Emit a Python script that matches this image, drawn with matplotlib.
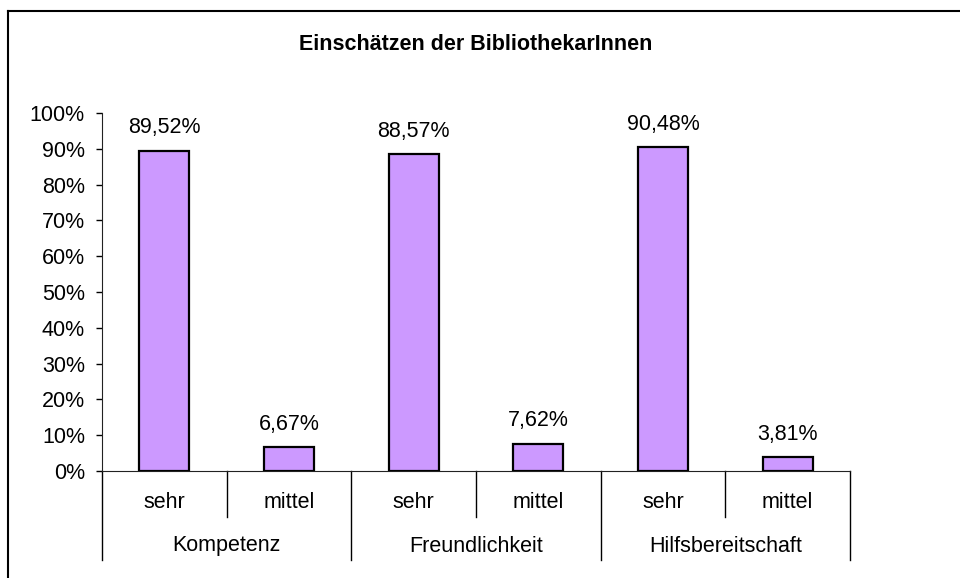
import matplotlib
matplotlib.use("Agg")
import matplotlib.pyplot as plt
from matplotlib.ticker import MultipleLocator, FuncFormatter

plt.rcParams['font.family'] = ['Liberation Sans', 'DejaVu Sans']

# Daten
groups = ["Kompetenz", "Freundlichkeit", "Hilfsbereitschaft"]
levels = ["sehr", "mittel"]
values = [89.52, 6.67, 88.57, 7.62, 90.48, 3.81]
value_labels = ["89,52%", "6,67%", "88,57%", "7,62%", "90,48%", "3,81%"]

FS = 15.5

fig = plt.figure(figsize=(9.6, 5.78), dpi=100)
ax = fig.add_axes([102 / 960, 1 - 471 / 578, 748 / 960, 358 / 578])

n = len(values)
xs = list(range(n))
ax.bar(xs, values, width=0.4, color="#CC99FF", edgecolor="black", linewidth=1.6, zorder=3)

for x, v, lab in zip(xs, values, value_labels):
    ax.annotate(lab, (x, v), xytext=(0, 16.5), textcoords="offset points",
                ha="center", va="center", fontsize=FS)

ax.set_xlim(-0.5, n - 0.5)
ax.set_ylim(0, 100)
ax.yaxis.set_major_locator(MultipleLocator(10))
ax.yaxis.set_major_formatter(FuncFormatter(lambda v, p: "%d%%" % v))
ax.tick_params(axis="y", direction="out", length=4.3, width=1, labelsize=FS, pad=8, colors="black")
ax.set_xticks([])

for s in ["top", "right"]:
    ax.spines[s].set_visible(False)
ax.spines["left"].set_color("#222222")
ax.spines["bottom"].set_color("#222222")

# Kategorien unten (zweistufig)
tr = ax.get_xaxis_transform()
inner = -46 / 358
outer = -89 / 358
for i in range(n + 1):
    x = i - 0.5
    y_end = outer if i % 2 == 0 else inner
    ax.plot([x, x], [0, y_end], transform=tr, color="black", lw=1, clip_on=False)
for i in range(n):
    ax.text(i, -31 / 358, levels[i % 2], transform=tr, ha="center", va="center", fontsize=FS)
for g, name in enumerate(groups):
    ax.text(2 * g + 0.5, -75 / 358, name, transform=tr, ha="center", va="center", fontsize=FS)

fig.text(476 / 960, 1 - 44 / 578, "Einschätzen der BibliothekarInnen", ha="center", va="center",
         fontsize=FS, fontweight="bold")

# Rahmen
fig.add_artist(plt.Line2D([8 / 960, 1], [1 - 11 / 578, 1 - 11 / 578], transform=fig.transFigure, color="black", lw=1.5))
fig.add_artist(plt.Line2D([8 / 960, 8 / 960], [0, 1 - 11 / 578], transform=fig.transFigure, color="black", lw=1.5))

fig.savefig("out.png", dpi=100)
